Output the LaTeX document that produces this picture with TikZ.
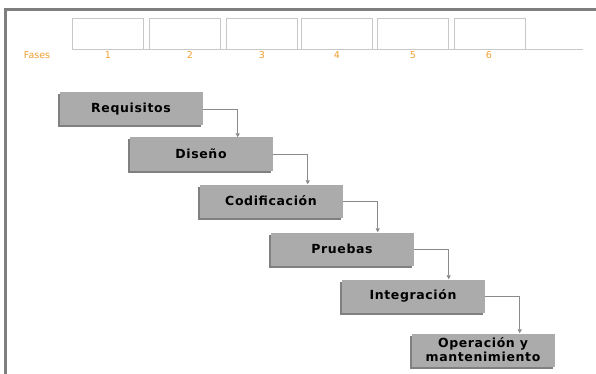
\documentclass[tikz,border=0pt]{standalone}
\usepackage{fontspec}
\setmainfont{DejaVu Sans}
\newfontfamily\stagefont[LetterSpace=5]{DejaVu Sans}
\usetikzlibrary{arrows.meta,shadows,calc}
\definecolor{frame}{HTML}{7F7F7F}
\definecolor{phase}{HTML}{F0A030}
\definecolor{boxgray}{HTML}{ABABAB}
\definecolor{boxshade}{HTML}{808080}
\definecolor{hdrline}{HTML}{C8C8C8}
\definecolor{connline}{HTML}{8A8A8A}
\begin{document}
\begin{tikzpicture}[x=1pt,y=-1pt,
  hdrbox/.style={draw=hdrline,line width=0.8pt,fill=white,minimum width=71pt,minimum height=31pt,inner sep=0pt},
  phaselbl/.style={text=phase,font=\fontsize{9.5}{10}\selectfont,inner sep=0pt},
  stagebox/.style={fill=boxgray,minimum width=143pt,minimum height=33pt,inner sep=1pt,
    font=\stagefont\fontsize{12.5}{14}\selectfont\bfseries,align=center,
    drop shadow={shadow xshift=-2pt,shadow yshift=-2pt,fill=boxshade,opacity=1}},
  conn/.style={draw=connline,line width=0.7pt,-{Triangle[width=4pt,length=4pt]}}
]
\useasboundingbox (0,0) rectangle (596,374);
\fill[white] (0,0) rectangle (596,374);
% frame
\draw[frame,line width=3pt] (5.5,374) -- (5.5,9.5) -- (596,9.5);
% header
\draw[hdrline,line width=0.8pt] (72,49) coordinate (hl) -- (583,49) coordinate (hr);
\node[hdrbox] (h1) at (107.5,33.5) {};
\node[hdrbox] (h2) at (184.5,33.5) {};
\node[hdrbox] (h3) at (261.5,33.5) {};
\node[hdrbox] (h4) at (336.5,33.5) {};
\node[hdrbox] (h5) at (412.5,33.5) {};
\node[hdrbox] (h6) at (490,33.5) {};
\node[phaselbl] (fases) at (37,55) {Fases};
\node[phaselbl] (n1) at (108,55) {1};
\node[phaselbl] (n2) at (190,55) {2};
\node[phaselbl] (n3) at (262,55) {3};
\node[phaselbl] (n4) at (337,55) {4};
\node[phaselbl] (n5) at (413,55) {5};
\node[phaselbl] (n6) at (489,55) {6};
% stages
\node[stagebox] (req) at (131,109) {Requisitos};
\node[stagebox] (dis) at (201,154) {Diseño};
\node[stagebox] (cod) at (271,201) {Codificación};
\node[stagebox] (pru) at (342,249) {Pruebas};
\node[stagebox] (int) at (413,296) {Integración};
\node[stagebox] (ope) at (483,350) {Operación y\\mantenimiento};
% connectors
\draw[conn] (req.east) -| ([xshift=35pt]req.east |- dis.north);
\draw[conn] (dis.east) -| ([xshift=35pt]dis.east |- cod.north);
\draw[conn] (cod.east) -| ([xshift=35pt]cod.east |- pru.north);
\draw[conn] (pru.east) -| ([xshift=35pt]pru.east |- int.north);
\draw[conn] (int.east) -| ([xshift=35pt]int.east |- ope.north);
\end{tikzpicture}
\end{document}
